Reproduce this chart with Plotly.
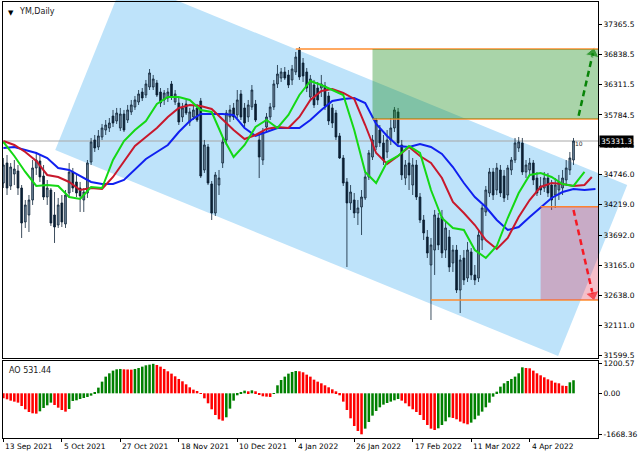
import plotly.graph_objects as go

# ---------------------------------------------------------------- data
# YM daily bars, bar 0 = 13 Sep 2021
opens = [34599, 34948, 34547, 34756, 34809, 34512, 33920, 34042, 34303, 34861,
         34983, 34721, 34355, 34477, 34042, 33867, 34251, 33885, 34425, 34791,
         34617, 34512, 34303, 34425, 34965, 35349, 35227, 35401, 35523, 35558,
         35767, 35680, 35558, 35802, 35697, 35837, 35924, 36011, 36185, 36133,
         36273, 36273, 36342, 36185, 36046, 36081, 36325, 36011, 35994, 35750,
         35976, 35663, 35750, 35907, 36029, 34826, 35227, 34582, 34076, 34564,
         34948, 35349, 35750, 35907, 35785, 36151, 35907, 35750, 35924, 35976,
         35349, 35000, 35575, 35750, 35924, 36325, 36429, 36534, 36482, 36395,
         36534, 36917, 36691, 36534, 36098, 36307, 36255, 36255, 36290, 36116,
         35907, 35819, 35419, 35035, 34617, 34251, 34303, 34076, 34181, 34338,
         34704, 35052, 35227, 35523, 35297, 35140, 35349, 35558, 35837, 35262,
         34686, 34948, 34564, 34913, 34355, 33954, 33658, 33170, 33431, 33989,
         34007, 33431, 33658, 33205, 33431, 32734, 33292, 32943, 33397, 32996,
         32943, 33606, 34094, 34425, 34791, 34477, 34826, 34721, 34390, 34826,
         35000, 35209, 35297, 34791, 34826, 34948, 34686, 34547, 34512, 34686,
         34564, 34390, 34477, 34512, 34652, 34826, 35000]
highs = [35035, 35087, 34948, 35000, 34913, 34564, 34303, 34390, 35000, 35140,
         35087, 34913, 34652, 34512, 34442, 34338, 34390, 34477, 34948, 34861,
         34739, 34617, 34512, 35000, 35384, 35436, 35523, 35628, 35697, 35732,
         35872, 35907, 35907, 35872, 35959, 36046, 36116, 36220, 36255, 36395,
         36586, 36482, 36395, 36255, 36220, 36255, 36377, 36220, 36081, 35994,
         36046, 35907, 35941, 35976, 36081, 35349, 35279, 34634, 34791, 34826,
         35384, 35872, 35959, 35994, 36220, 36220, 35994, 36046, 36307, 36046,
         35436, 35558, 35819, 35994, 36395, 36656, 36604, 36621, 36569, 36656,
         36883, 36970, 36778, 36604, 36482, 36395, 36360, 36482, 36360, 36185,
         35976, 35872, 35471, 35087, 34686, 34564, 34425, 34303, 34477, 34791,
         35174, 35436, 35732, 35610, 35436, 35523, 35732, 35924, 35907, 35349,
         35000, 35174, 35035, 35000, 34425, 34042, 33780, 33641, 34129, 34076,
         34129, 33920, 33780, 33519, 33519, 33344, 33431, 33571, 33466, 33170,
         33780, 34216, 34547, 34861, 34861, 34948, 34913, 34826, 34913, 35052,
         35384, 35401, 35384, 35000, 35035, 35000, 34791, 34704, 34791, 34774,
         34652, 34686, 34739, 34826, 35000, 35140, 35384]
lows = [34512, 34390, 34477, 34564, 34390, 33641, 33815, 33745, 34216, 34739,
        34617, 34303, 34216, 33850, 33554, 33815, 33832, 33815, 34338, 34442,
        34355, 34094, 34094, 34338, 34913, 35140, 35174, 35349, 35436, 35488,
        35575, 35628, 35506, 35488, 35645, 35785, 35872, 35959, 36029, 36081,
        36220, 36220, 36098, 35924, 35959, 36011, 36046, 35959, 35610, 35663,
        35785, 35593, 35697, 35663, 34686, 34774, 34564, 33954, 34024, 34390,
        34861, 35262, 35663, 35697, 35732, 35697, 35575, 35663, 35872, 35663,
        34686, 34913, 35488, 35697, 35872, 36255, 36360, 36395, 36255, 36307,
        36482, 36395, 36360, 36185, 36046, 35907, 35959, 36098, 35872, 35610,
        35558, 35349, 35018, 34547, 33135, 34129, 33989, 33867, 33693, 34303,
        34652, 35000, 35174, 35227, 34913, 35035, 35262, 35488, 35262, 34652,
        34564, 34477, 34390, 34303, 33902, 33606, 33292, 32211, 32996, 33431,
        33292, 33292, 33048, 33048, 32682, 32333, 32821, 32874, 32909, 32821,
        32874, 33431, 34024, 34355, 34303, 34390, 34355, 34268, 34303, 34739,
        34948, 35140, 34739, 34686, 34721, 34564, 34373, 34390, 34442, 34355,
        34129, 34164, 34303, 34390, 34564, 34739, 34913]
closes = [34913, 34512, 34878, 34843, 34512, 33902, 34216, 34303, 34861, 35000,
          34704, 34355, 34512, 33902, 33832, 34216, 33920, 34390, 34791, 34512,
          34425, 34373, 34442, 34948, 35314, 35209, 35419, 35558, 35610, 35645,
          35645, 35819, 35802, 35523, 35872, 35959, 36046, 36151, 36081, 36325,
          36517, 36412, 36133, 35994, 36168, 36185, 36098, 36151, 35663, 35907,
          35819, 35837, 35872, 35697, 34721, 35262, 34599, 34076, 34739, 34686,
          35314, 35819, 35872, 35750, 36046, 35750, 35645, 35959, 36220, 35697,
          35052, 35488, 35750, 35924, 36325, 36499, 36534, 36429, 36307, 36586,
          36795, 36447, 36464, 36255, 36412, 35959, 36046, 36325, 35941, 35680,
          35645, 35401, 35035, 34599, 34251, 34442, 34076, 34164, 34355, 34704,
          35122, 35349, 35697, 35297, 35000, 35349, 35558, 35872, 35297, 34739,
          34913, 34739, 34913, 34355, 33954, 33728, 33379, 33519, 34042, 33519,
          33379, 33815, 33135, 33431, 32734, 33257, 32909, 33431, 32996, 32909,
          33693, 34164, 34477, 34791, 34390, 34861, 34425, 34338, 34861, 35000,
          35297, 35314, 34791, 34913, 34948, 34652, 34425, 34477, 34686, 34425,
          34303, 34564, 34617, 34686, 34861, 35035, 35331.3]

# Alligator lines (read every 3 bars; shifted forward past the last bar)
jaw_bars = list(range(0, 163, 3))
jaw = [35209, 35227, 35174, 35122, 35035, 34861, 34826, 34721, 34617, 34582,
       34582, 34652, 34843, 35018, 35140, 35262, 35488, 35680, 35802, 35802,
       35802, 35785, 35558, 35419, 35488, 35558, 35558, 35558, 35697, 35872,
       36029, 36063, 36081, 35994, 35628, 35419, 35244, 35227, 35279, 35227,
       35105, 34878, 34599, 34355, 34181, 33954, 33780, 33832, 34007, 34181,
       34338, 34442, 34495, 34477, 34495]
teeth_bars = list(range(0, 160, 3)) + [161]
teeth = [35331, 35262, 35140, 34983, 34739, 34704, 34617, 34477, 34512, 34495,
         34704, 34983, 35244, 35401, 35558, 35750, 35907, 35959, 35941, 35889,
         35697, 35523, 35366, 35436, 35541, 35575, 35558, 35750, 36046, 36203,
         36238, 36168, 36064, 35610, 35122, 34931, 35070, 35227, 35070, 34948,
         34686, 34268, 34076, 33867, 33606, 33449, 33641, 34007, 34303, 34530,
         34599, 34582, 34547, 34564, 34704]
lips_bars = list(range(0, 160, 3))
lips = [35314, 35070, 34791, 34547, 34564, 34547, 34355, 34320, 34530, 34512,
        35000, 35331, 35523, 35680, 35976, 36098, 36098, 36046, 35872, 35837,
        35401, 35052, 35262, 35575, 35697, 35558, 35785, 36133, 36377, 36307,
        36220, 36133, 35523, 34791, 34599, 34965, 35070, 35244, 35122, 34477,
        33989, 33815, 33780, 33431, 33292, 33501, 33989, 34425, 34739, 34774,
        34704, 34582, 34547, 34791]

# Awesome Oscillator
ao = [-204, -244, -299, -339, -380, -516, -651, -760, -814, -828,
      -733, -597, -489, -380, -475, -584, -679, -746, -638, -312,
      -285, -231, -190, -149, -95, 27, 231, 475, 679, 814,
      923, 977, 991, 977, 970, 963, 991, 1031, 1086, 1140,
      1167, 1200.57, 1153, 1086, 991, 896, 801, 692, 584, 489,
      366, 244, 149, 95, -10, -204, -407, -651, -882, -1058,
      -1113, -977, -624, -299, -81, 41, 109, 81, 122, 81,
      -41, -122, -136, -149, -27, 326, 543, 679, 801, 869,
      909, 896, 855, 760, 679, 556, 475, 407, 326, 244,
      163, 81, -81, -339, -679, -1018, -1330, -1533, -1668.36, -1438,
      -1167, -909, -719, -570, -461, -394, -339, -285, -231, -299,
      -407, -529, -651, -760, -882, -1086, -1289, -1438, -1493, -1425,
      -1289, -1140, -977, -1004, -1058, -1153, -1221, -1262, -1194, -1058,
      -909, -746, -570, -380, -136, 68, 271, 407, 502, 584,
      679, 814, 1058, 1031, 1018, 923, 814, 733, 651, 570,
      516, 434, 407, 312, 299, 448, 531.44]

date_ticks = [0, 16, 32, 48, 64, 80, 96, 112, 128, 144]
date_labels = ["13 Sep 2021", "5 Oct 2021", "27 Oct 2021", "18 Nov 2021",
               "10 Dec 2021", "4 Jan 2022", "26 Jan 2022", "17 Feb 2022",
               "11 Mar 2022", "4 Apr 2022"]
price_ticks = [37365.5, 36838.5, 36311.5, 35784.5, 35257.5, 34746.0,
               34219.0, 33692.0, 33165.0, 32638.0, 32111.0, 31599.5]
ao_ticks = [1200.57, 0.0, -1668.36]
last_price = 35331.3

# drawn objects: (bar, price)
channel = [(14.2, 35174), (151.8, 31584), (170.7, 34564), (33.1, 38155)]
box_up = (101, 36935, 35715)
box_down = (147, 34186, 32560)
levels = [(80, 36935), (101, 35715), (147, 34186), (117, 32560)]
arrow_up = ([157.4, 161.3], [35772, 36860])
arrow_down = ([156.0, 161.3], [34129, 32647])

# ---------------------------------------------------------------- layout constants
X_RANGE = [-0.1, 162.7]
MAIN_RANGE = [31549, 37754]
AO_RANGE = [-1819, 1315]
MAIN_DOM = [0.1835, 1.0]
AO_DOM = [0.0, 0.1766]
FONT = "DejaVu Sans"

bars = list(range(len(closes)))


def to_paper(bar, price):
    x = (bar - X_RANGE[0]) / (X_RANGE[1] - X_RANGE[0])
    y = MAIN_DOM[0] + (price - MAIN_RANGE[0]) / (MAIN_RANGE[1] - MAIN_RANGE[0]) * (MAIN_DOM[1] - MAIN_DOM[0])
    return x, y


fig = go.Figure()

fig.add_trace(go.Candlestick(
    x=bars, open=opens, high=highs, low=lows, close=closes,
    increasing=dict(fillcolor="#71879c", line=dict(color="#0e2438", width=0.8)),
    decreasing=dict(fillcolor="#0b1f33", line=dict(color="#0b1f33", width=0.8)),
    whiskerwidth=0, showlegend=False, hoverinfo="skip",
    xaxis="x", yaxis="y",
))

for xs, ys, col in [(jaw_bars, jaw, "#1020f0"), (teeth_bars, teeth, "#c8182c"), (lips_bars, lips, "#14d814")]:
    fig.add_trace(go.Scatter(x=xs, y=ys, mode="lines", line=dict(color=col, width=2),
                             showlegend=False, hoverinfo="skip", xaxis="x", yaxis="y"))

for (xs, ys), col in [(arrow_up, "#008000"), (arrow_down, "#ff1010")]:
    fig.add_trace(go.Scatter(
        x=xs, y=ys, mode="lines+markers",
        line=dict(color=col, width=2.5, dash="6px,4px"),
        marker=dict(symbol="triangle-up", size=[0, 12], color=col, angleref="previous"),
        showlegend=False, hoverinfo="skip", xaxis="x", yaxis="y"))

ao_colors = ["#ff0000"] + ["#008000" if ao[i] > ao[i - 1] else "#ff0000" for i in range(1, len(ao))]
fig.add_trace(go.Bar(x=bars, y=ao, marker=dict(color=ao_colors, line_width=0),
                     showlegend=False, hoverinfo="skip", xaxis="x2", yaxis="y2"))

# ---------------------------------------------------------------- shapes
shapes = []
pts = [to_paper(b, p) for b, p in channel]
path = "M " + " L ".join(f"{x:.4f},{y:.4f}" for x, y in pts) + " Z"
shapes.append(dict(type="path", path=path, xref="paper", yref="paper",
                   fillcolor="#bee3fa", line_width=0, layer="below"))
shapes.append(dict(type="line", xref="paper", yref="y", x0=0, x1=1, y0=last_price, y1=last_price,
                   line=dict(color="#a8a8a8", width=1), layer="below"))
for b, p in levels:
    shapes.append(dict(type="line", xref="x", yref="y", x0=b, x1=X_RANGE[1], y0=p, y1=p,
                       line=dict(color="#ff8c2e", width=1.6)))
shapes.append(dict(type="rect", xref="x", yref="y", x0=box_up[0], x1=X_RANGE[1],
                   y0=box_up[2], y1=box_up[1], fillcolor="rgba(23,139,23,0.37)", line_width=0))
shapes.append(dict(type="rect", xref="x", yref="y", x0=box_down[0], x1=X_RANGE[1],
                   y0=box_down[2], y1=box_down[1], fillcolor="rgba(223,50,85,0.31)", line_width=0))

# ---------------------------------------------------------------- text
annotations = [
    dict(text="▼", xref="paper", yref="paper", x=0, y=1, xanchor="left", yanchor="top",
         xshift=3, yshift=-5, showarrow=False, font=dict(size=7, color="black", family=FONT)),
    dict(text="YM,Daily", xref="paper", yref="paper", x=0, y=1, xanchor="left", yanchor="top",
         xshift=14, yshift=-3, showarrow=False, font=dict(size=8, color="#202020", family=FONT)),
    dict(text=f"AO {ao[-1]:.2f}", xref="paper", yref="paper", x=0, y=AO_DOM[1], xanchor="left",
         yanchor="top", xshift=4, yshift=-3, showarrow=False, font=dict(size=8, color="#202020", family=FONT)),
    dict(text=f"{last_price:.1f}", xref="paper", yref="y", x=1, y=last_price, xanchor="left",
         xshift=1, showarrow=False, bgcolor="black", borderpad=1,
         font=dict(size=7.5, color="white", family=FONT)),
    dict(text="10", xref="x", yref="y", x=bars[-1], y=highs[-1], xanchor="left", yanchor="top",
         xshift=-1, showarrow=False, font=dict(size=6, color="#303030", family=FONT)),
]
for b, lab in zip(date_ticks, date_labels):
    annotations.append(dict(text=lab, xref="x2", yref="paper", x=b, y=0, xanchor="left", yanchor="top",
                            yshift=-2, showarrow=False, font=dict(size=7.5, color="black", family=FONT)))

axis_common = dict(showgrid=False, zeroline=False, showline=True, linecolor="black", linewidth=1, mirror=True)

fig.update_layout(
    width=640, height=457,
    margin=dict(l=3, r=42, t=2, b=19),
    paper_bgcolor="white", plot_bgcolor="white",
    font=dict(family=FONT, size=7.5, color="black"),
    showlegend=False, bargap=0.3,
    xaxis=dict(domain=[0, 1], anchor="y", range=X_RANGE, showticklabels=False, ticks="",
               rangeslider=dict(visible=False), **axis_common),
    xaxis2=dict(domain=[0, 1], anchor="y2", range=X_RANGE, matches="x", tickvals=date_ticks,
                ticks="outside", ticklen=3, tickcolor="black", showticklabels=False, **axis_common),
    yaxis=dict(domain=MAIN_DOM, anchor="x", side="right", range=MAIN_RANGE, automargin=False,
               tickvals=price_ticks, ticktext=[f"{v:.1f}" for v in price_ticks],
               ticks="outside", ticklen=3, tickcolor="black", **axis_common),
    yaxis2=dict(domain=AO_DOM, anchor="x2", side="right", range=AO_RANGE, automargin=False,
                tickvals=ao_ticks, ticktext=[f"{v:.2f}" for v in ao_ticks],
                ticks="outside", ticklen=3, tickcolor="black", **axis_common),
    shapes=shapes,
    annotations=annotations,
)

fig.write_html("out.html", config={"displayModeBar": False},
               post_script="document.body.style.margin='0px';")
